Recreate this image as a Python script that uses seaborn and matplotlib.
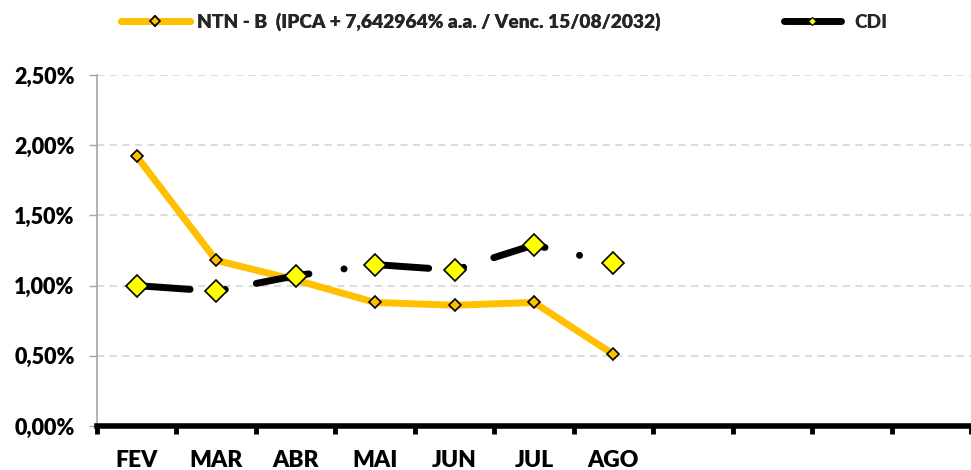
import matplotlib
matplotlib.use("Agg")
import matplotlib.pyplot as plt
from matplotlib.lines import Line2D
from matplotlib.ticker import FuncFormatter, FixedLocator
import pandas as pd
import seaborn as sns

# data (monthly returns, %)
months = ["FEV", "MAR", "ABR", "MAI", "JUN", "JUL", "AGO"]
n_slots = 11  # axis keeps room for FEV..DEZ
ntnb = [1.92, 1.18, 1.04, 0.88, 0.86, 0.88, 0.51]
cdi = [1.00, 0.96, 1.07, 1.15, 1.11, 1.29, 1.16]
ntnb_label = "NTN - B  (IPCA + 7,642964% a.a. / Venc. 15/08/2032)"
cdi_label = "CDI"

GOLD = "#FFC000"
YELLOW = "#FFFF00"

sns.set_theme(style="white")
plt.rcParams["font.family"] = ["Lato", "DejaVu Sans"]
plt.rcParams["font.weight"] = "heavy"

df = pd.DataFrame({"mes": months, "ntnb": ntnb, "cdi": cdi})

fig = plt.figure(figsize=(9.71, 4.70), dpi=100)
ax = fig.add_axes([97 / 971, 44 / 470, 1 - 97 / 971, 351 / 470])

sns.lineplot(data=df, x="mes", y="ntnb", ax=ax, color=GOLD, linewidth=5,
             marker="D", markersize=6.6, markerfacecolor=GOLD,
             markeredgecolor="black", markeredgewidth=1.2, zorder=3,
             solid_capstyle="round", solid_joinstyle="round")
sns.lineplot(data=df, x="mes", y="cdi", ax=ax, color="black", linewidth=5,
             marker="D", markersize=11.5, markerfacecolor=YELLOW,
             markeredgecolor="black", markeredgewidth=1.2, zorder=4)
# excel style long-dash-dot
cl = ax.lines[-1]
cl.set_dashes((7.7, 5.1, 0.01, 4.55))
cl.set_dash_capstyle("round")

ax.set_xlim(-0.5, n_slots - 0.5)
ax.set_ylim(0, 2.5)
ax.set_xlabel("")
ax.set_ylabel("")

# y axis
ax.yaxis.set_major_locator(FixedLocator([0, 0.5, 1.0, 1.5, 2.0, 2.5]))
ax.yaxis.set_major_formatter(FuncFormatter(lambda v, p: f"{v:.2f}%".replace(".", ",")))
ax.tick_params(axis="y", which="major", length=6, width=1, color="#A6A6A6",
               labelsize=15.5, labelcolor="black", pad=10, direction="out", left=True)
ax.grid(axis="y", color="#D9D9D9", linestyle=(0, (4, 3)), linewidth=1.3)
ax.grid(axis="x", visible=False)

# x axis: labels at centres, tick marks at boundaries
ax.set_xticks(range(len(months)))
ax.set_xticklabels(months)
ax.set_xticks([i - 0.5 for i in range(n_slots + 1)], minor=True)
ax.tick_params(axis="x", which="major", length=0, labelsize=16.5, pad=17, labelcolor="black")
ax.tick_params(axis="x", which="minor", length=6, width=3.5, color="black",
               direction="out", bottom=True)
for lab in ax.get_xticklabels() + ax.get_yticklabels():
    lab.set_fontweight("heavy")

for s in ["top", "right"]:
    ax.spines[s].set_visible(False)
ax.spines["left"].set_color("#A6A6A6")
ax.spines["left"].set_linewidth(1.2)
ax.spines["bottom"].set_color("black")
ax.spines["bottom"].set_linewidth(4)
ax.spines["bottom"].set_zorder(5)

h_ntnb = Line2D([], [], color=GOLD, linewidth=5, marker="D", markersize=5,
                markerfacecolor=GOLD, markeredgecolor="black", markeredgewidth=1.2)
h_cdi = Line2D([], [], color="black", linewidth=5, marker="D", markersize=4.5,
               markerfacecolor=YELLOW, markeredgecolor="black", markeredgewidth=0.8,
               solid_capstyle="round")
leg_font = {"size": 13.8, "weight": "heavy"}
leg1 = fig.legend([h_ntnb], [ntnb_label], loc="center left",
                  bbox_to_anchor=(113 / 971, 1 - 22 / 470), frameon=False,
                  prop=leg_font, handlelength=3.6, handletextpad=0.36, borderaxespad=0)
fig.add_artist(leg1)
fig.legend([h_cdi], [cdi_label], loc="center left",
           bbox_to_anchor=(776 / 971, 1 - 22 / 470), frameon=False,
           prop=leg_font, handlelength=3.0, handletextpad=0.7, borderaxespad=0)

fig.savefig("out.png", dpi=100)
